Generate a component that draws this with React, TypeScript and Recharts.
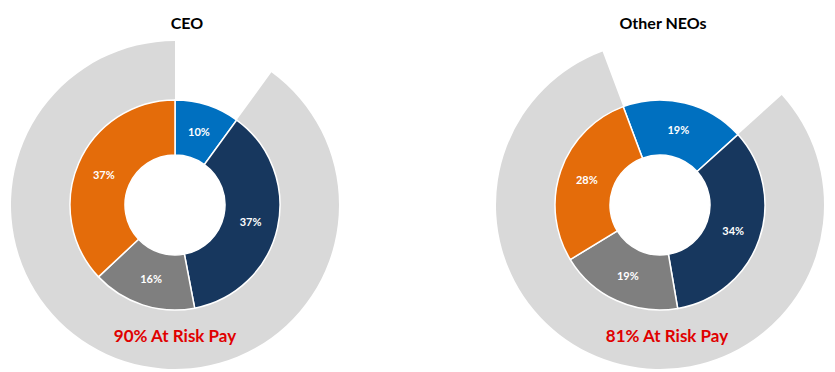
import { PieChart, Pie, Cell } from "recharts";

const sliceNames = ["Fixed Pay", "Component B", "Component C", "Component D"];
const sliceColors = ["#0070C0", "#17375E", "#7F7F7F", "#E46C0A"];
const ceoValues = [10, 37, 16, 37];
const neoValues = [19, 34, 19, 28];
const atRiskNames = ["Not At Risk", "At Risk"];
const ceoAtRisk = 90;
const neoAtRisk = 81;
const titles = ["CEO", "Other NEOs"];

const RAD = Math.PI / 180;
const FONT = "Lato, 'Open Sans', sans-serif";

const ceoData = sliceNames.map((name, i) => ({ name, value: ceoValues[i] }));
const neoData = sliceNames.map((name, i) => ({ name, value: neoValues[i] }));
const ringData = (atRisk: number) => [
  { name: atRiskNames[0], value: 100 - atRisk },
  { name: atRiskNames[1], value: atRisk },
];

const renderLabel = (props: any) => {
  const { cx, cy, midAngle, innerRadius, outerRadius, value } = props;
  const r = (innerRadius + outerRadius) / 2;
  const x = cx + r * Math.cos(-midAngle * RAD);
  const y = cy + r * Math.sin(-midAngle * RAD);
  return (
    <text
      x={x}
      y={y}
      fill="#fff"
      fontSize={11}
      fontWeight={700}
      fontFamily={FONT}
      textAnchor="middle"
      dominantBaseline="central"
    >
      {value}%
    </text>
  );
};

const charts = [
  { cx: 175, cy: 205, start: 90, data: ceoData, atRisk: ceoAtRisk, titleX: 187 },
  { cx: 660, cy: 205, start: 110.5, data: neoData, atRisk: neoAtRisk, titleX: 663 },
];

export default function App() {
  return (
    <div style={{ position: "absolute", left: 0, top: 0, width: 835, height: 372, background: "#fff" }}>
      <PieChart width={835} height={372} margin={{ top: 0, right: 0, bottom: 0, left: 0 }}>
        {charts.map((c, k) => (
          <Pie
            key={"ring" + k}
            data={ringData(c.atRisk)}
            dataKey="value"
            cx={c.cx}
            cy={c.cy}
            innerRadius={104}
            outerRadius={164}
            startAngle={c.start}
            endAngle={c.start - 360}
            stroke="none"
            isAnimationActive={false}
          >
            <Cell fill="transparent" />
            <Cell fill="#D9D9D9" />
          </Pie>
        ))}
        {charts.map((c, k) => (
          <Pie
            key={"donut" + k}
            data={c.data}
            dataKey="value"
            cx={c.cx}
            cy={c.cy}
            innerRadius={50}
            outerRadius={105}
            startAngle={c.start}
            endAngle={c.start - 360}
            stroke="#fff"
            strokeWidth={1.5}
            label={renderLabel}
            labelLine={false}
            isAnimationActive={false}
          >
            {c.data.map((d, i) => (
              <Cell key={d.name} fill={sliceColors[i]} />
            ))}
          </Pie>
        ))}
      </PieChart>
      {charts.map((c, k) => (
        <div key={"t" + k}>
          <div
            style={{
              position: "absolute",
              left: c.titleX - 100,
              width: 200,
              top: 13,
              textAlign: "center",
              fontFamily: FONT,
              fontWeight: 700,
              fontSize: 16,
              color: "#000",
            }}
          >
            {titles[k]}
          </div>
          <div
            style={{
              position: "absolute",
              left: c.cx - 100 + (k === 1 ? 7 : 0),
              width: 200,
              top: 325,
              textAlign: "center",
              fontFamily: FONT,
              fontWeight: 700,
              fontSize: 17,
              color: "#E00000",
            }}
          >
            {c.atRisk}% At Risk Pay
          </div>
        </div>
      ))}
    </div>
  );
}
